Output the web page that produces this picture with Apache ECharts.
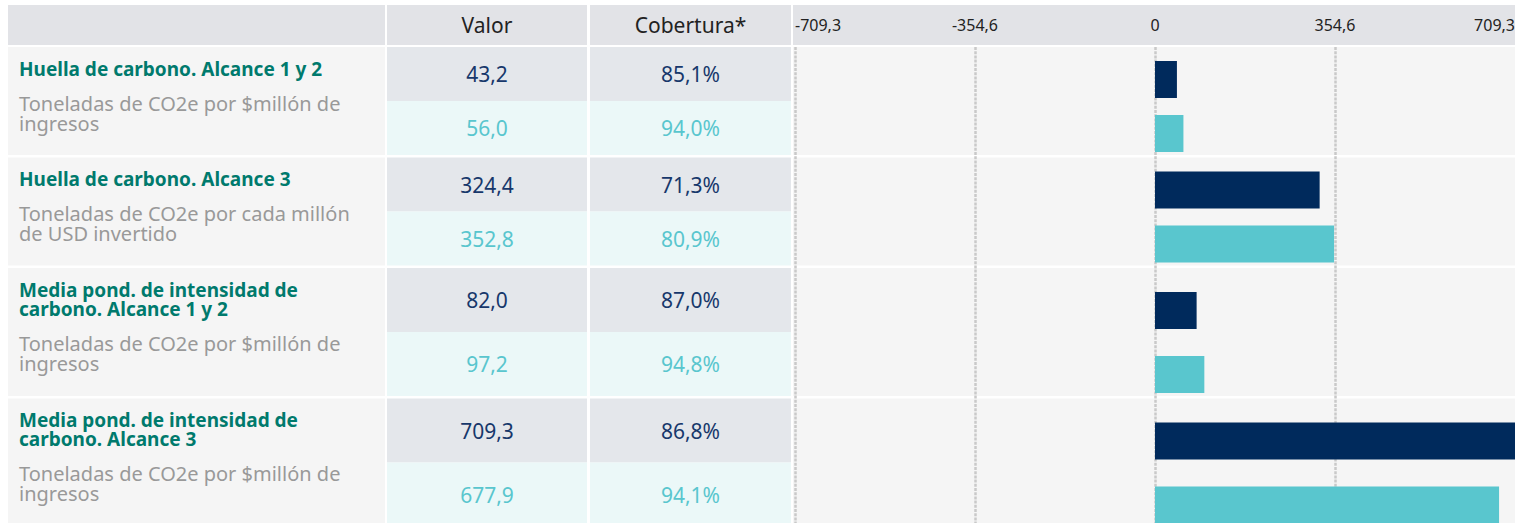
<!DOCTYPE html>
<html>
<head>
<meta charset="utf-8">
<script src="https://cdn.jsdelivr.net/npm/echarts@6/dist/echarts.min.js"></script>
<style>
html, body { margin: 0; padding: 0; background: #fff; }
#main { width: 1525px; height: 523px; }
</style>
</head>
<body>
<div id="main"></div>
<script>
// datos de la tabla
var columnHeaders = ['Valor', 'Cobertura*'];
var groupTitles = [
	'Huella de carbono. Alcance 1 y 2',
	'Huella de carbono. Alcance 3',
	'Media pond. de intensidad de\ncarbono. Alcance 1 y 2',
	'Media pond. de intensidad de\ncarbono. Alcance 3'
];
var groupUnits = [
	'Toneladas de CO2e por $millón de\ningresos',
	'Toneladas de CO2e por cada millón\nde USD invertido',
	'Toneladas de CO2e por $millón de\ningresos',
	'Toneladas de CO2e por $millón de\ningresos'
];
var rowNames = ['Cartera', 'Referencia'];
var carteraValues = [43.2, 324.4, 82.0, 709.3];
var referenciaValues = [56.0, 352.8, 97.2, 677.9];
var carteraCobertura = [85.1, 71.3, 87.0, 86.8];
var referenciaCobertura = [94.0, 80.9, 94.8, 94.1];
var axisMin = -709.3, axisMax = 709.3, axisInterval = 354.65;
var tickLabels = ['-709,3', '-354,6', '0', '354,6', '709,3'];

var FONT = '"Noto Sans", sans-serif';
var darkColor = '#002a5c';
var lightColor = '#59c6ce';
var darkText = '#17386b';

function fmt(v) {
	return v.toFixed(1).replace('.', ',');
}

var chart = echarts.init(document.getElementById('main'), null, { renderer : 'svg' });

var colLeft = [8, 385], colValor = [387, 587], colCob = [590, 791], colChart = [793, 1515];
var axisLeft = 795, axisWidth = 720;
var headTop = 5, headH = 40;

var graphics = [];
function rect(x1, x2, y, h, fill) {
	graphics.push({ type : 'rect', z : 0, silent : true, shape : { x : x1, y : y, width : x2 - x1, height : h }, style : { fill : fill } });
}
function text(str, x, y, font, fill, align, vAlign, lh) {
	var st = { text : str, x : x, y : y, font : font, fill : fill, align : align, verticalAlign : vAlign };
	if (lh) st.lineHeight = lh;
	graphics.push({ type : 'text', z : 10, silent : true, style : st });
}

// cabecera
[colLeft, colValor, colCob, colChart].forEach(function(c) {
	rect(c[0], c[1], headTop, headH, '#e2e3e7');
});
text(columnHeaders[0], (colValor[0] + colValor[1]) / 2, headTop + headH / 2, '21px ' + FONT, '#222', 'center', 'middle');
text(columnHeaders[1], (colCob[0] + colCob[1]) / 2, headTop + headH / 2, '21px ' + FONT, '#222', 'center', 'middle');

var grids = [ { left : axisLeft, width : axisWidth, top : 47, bottom : 0 } ];
var xAxes = [ {
	gridIndex : 0,
	type : 'value',
	position : 'top',
	min : axisMin,
	max : axisMax,
	interval : axisInterval,
	z : 3,
	axisLine : { show : false },
	axisTick : { show : false },
	axisLabel : {
		margin : 14,
		fontSize : 16,
		fontFamily : FONT,
		color : '#222',
		alignMinLabel : 'left',
		alignMaxLabel : 'right',
		formatter : function(v, i) {
			return tickLabels[i];
		}
	},
	splitLine : {
		show : true,
		showMaxLine : false,
		lineStyle : { color : '#c9c9c9', width : 2.5, type : [3, 1.2] }
	}
} ];
var yAxes = [ { gridIndex : 0, type : 'value', show : false } ];
var series = [];

var groupTop = 47;
groupTitles.forEach(function(title, i) {
	var tLines = title.split('\n').length;
	var h = 108 + 20 * (tLines - 1);
	var sub = h / 2;

	rect(colLeft[0], colLeft[1], groupTop, h, '#f5f5f5');
	rect(colValor[0], colValor[1], groupTop, sub, '#e4e7eb');
	rect(colValor[0], colValor[1], groupTop + sub, sub, '#ebf8f8');
	rect(colCob[0], colCob[1], groupTop, sub, '#e4e7eb');
	rect(colCob[0], colCob[1], groupTop + sub, sub, '#ebf8f8');
	rect(colChart[0], colChart[1], groupTop, h, '#f5f5f5');

	text(title, 19, groupTop + 12, 'bold 19px ' + FONT, '#007a6d', 'left', 'top', 19);
	text(groupUnits[i], 19, groupTop + 29 + 19 * (tLines - 1) + 35 - 18, '20px ' + FONT, '#999999', 'left', 'top', 20);

	var vx = (colValor[0] + colValor[1]) / 2, cx = (colCob[0] + colCob[1]) / 2;
	text(fmt(carteraValues[i]), vx, groupTop + sub / 2, '21px ' + FONT, darkText, 'center', 'middle');
	text(fmt(referenciaValues[i]), vx, groupTop + sub * 1.5, '21px ' + FONT, lightColor, 'center', 'middle');
	text(fmt(carteraCobertura[i]) + '%', cx, groupTop + sub / 2, '21px ' + FONT, darkText, 'center', 'middle');
	text(fmt(referenciaCobertura[i]) + '%', cx, groupTop + sub * 1.5, '21px ' + FONT, lightColor, 'center', 'middle');

	// las barras se apoyan 3px sobre el borde inferior de cada subfila
	grids.push({ left : axisLeft, width : axisWidth, top : groupTop + sub - 21.5, height : sub });
	xAxes.push({ gridIndex : i + 1, type : 'value', min : axisMin, max : axisMax, show : false, splitLine : { show : false } });
	yAxes.push({ gridIndex : i + 1, type : 'category', data : rowNames, inverse : true, boundaryGap : false, show : false });
	series.push({
		type : 'bar',
		xAxisIndex : i + 1,
		yAxisIndex : i + 1,
		barWidth : 37,
		clip : false,
		z : 5,
		silent : true,
		data : [
			{ value : carteraValues[i], itemStyle : { color : darkColor } },
			{ value : referenciaValues[i], itemStyle : { color : lightColor } }
		]
	});

	groupTop += h + 2.5;
});

chart.setOption({
	animation : false,
	backgroundColor : '#fff',
	grid : grids,
	xAxis : xAxes,
	yAxis : yAxes,
	series : series,
	graphic : { elements : graphics }
});
</script>
</body>
</html>
